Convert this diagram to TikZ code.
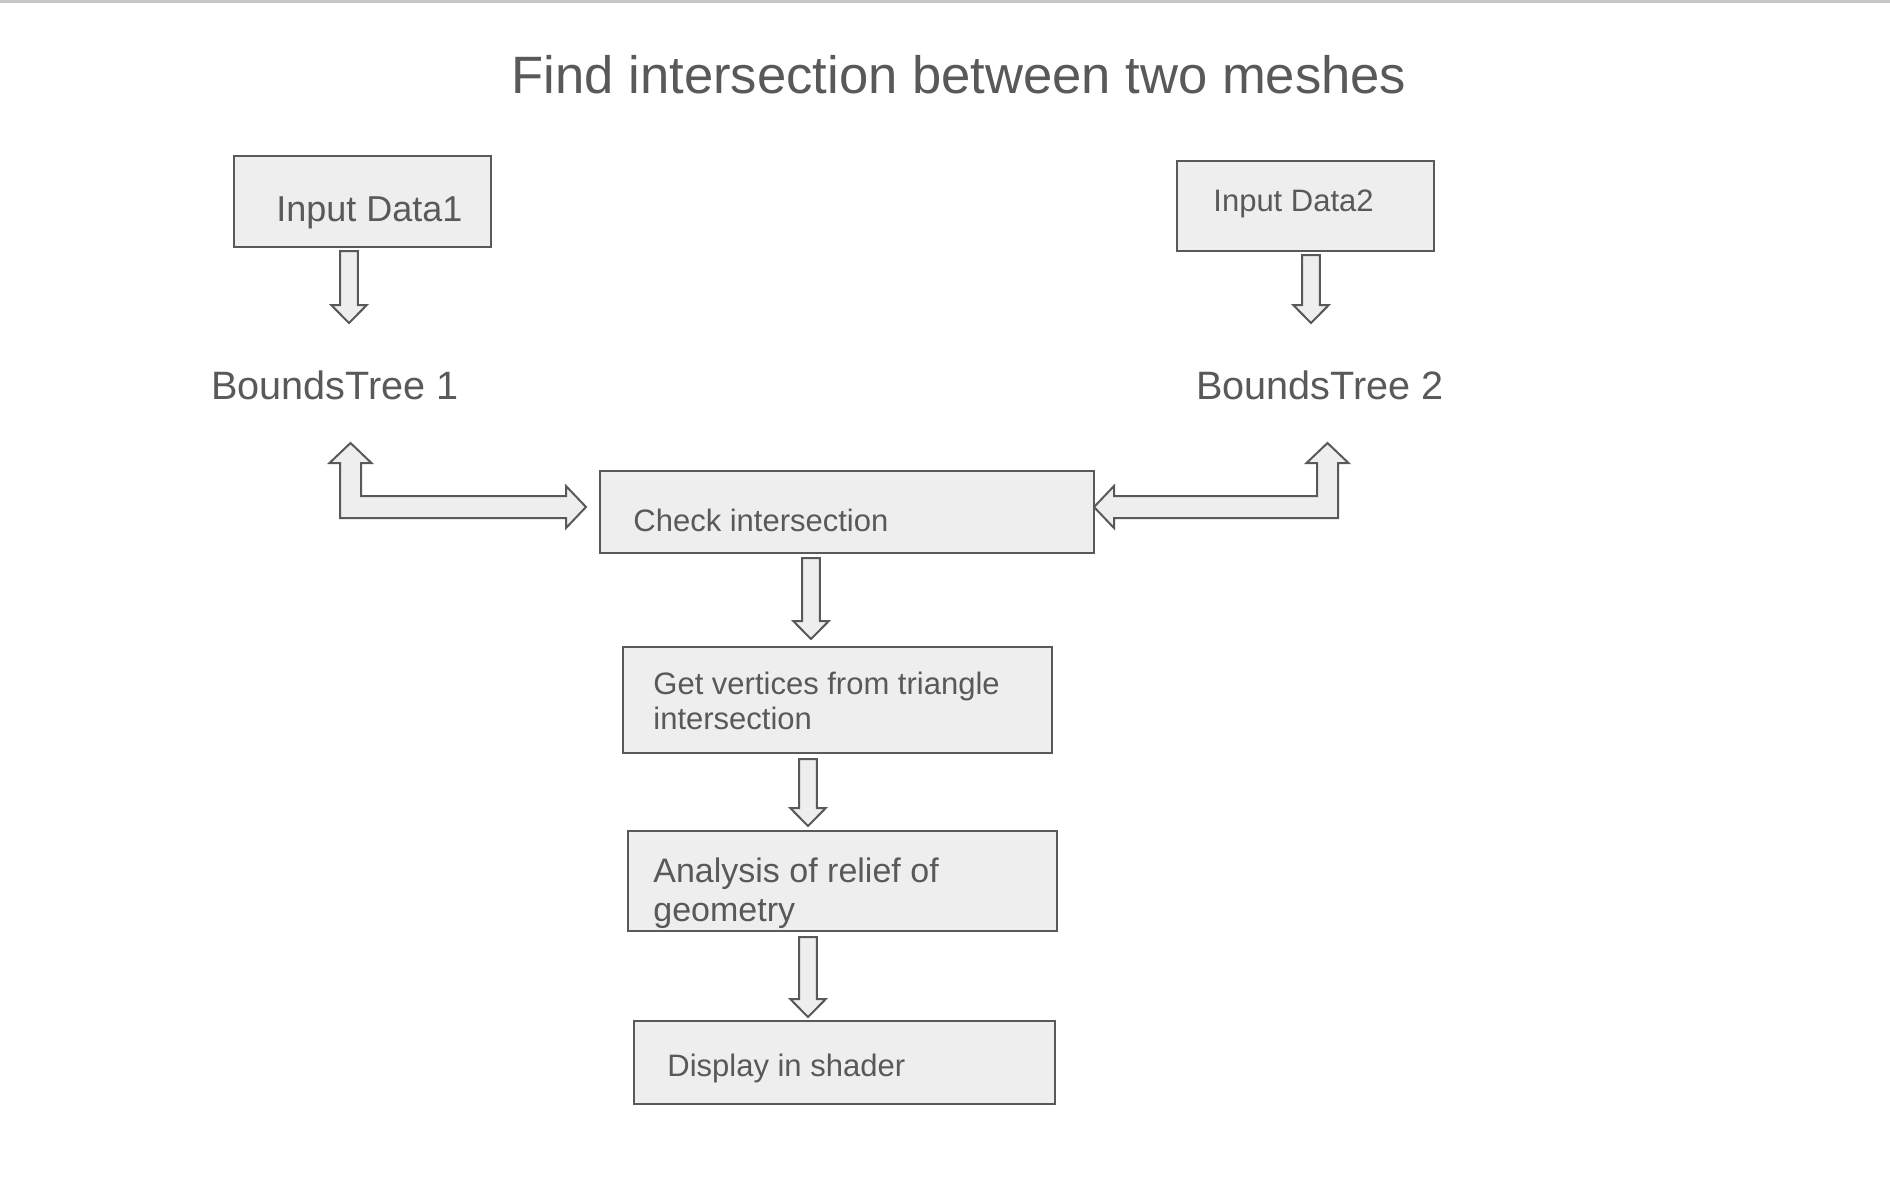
\documentclass[tikz,border=0pt]{standalone}
\usepackage{fontspec}
\setmainfont{Liberation Sans}
\usetikzlibrary{calc}
\definecolor{tgray}{HTML}{595959}
\definecolor{bfill}{HTML}{EEEEEE}
\definecolor{topline}{HTML}{C6C6C6}
\tikzset{
  box/.style={draw=tgray, fill=bfill, line width=1pt, rectangle, inner sep=0pt, anchor=north west},
  txt/.style={text=tgray, inner sep=0pt, anchor=base west, align=left},
  blk/.style={draw=tgray, fill=bfill, line width=1pt, line join=miter},
}
% vertical block arrow from #1 (top of shaft) to #2 (tip); sizes in pt (1px = 0.5pt)
\newcommand\blkdown[2]{%
  \draw[blk] let \p1=#1, \p2=#2 in
    (\x2-4.4pt,\y1) -- (\x2+4.4pt,\y1) -- (\x2+4.4pt,\y2+9pt) -- (\x2+8.9pt,\y2+9pt)
    -- (\x2,\y2) -- (\x2-8.9pt,\y2+9pt) -- (\x2-4.4pt,\y2+9pt) -- cycle;}
% L arrow: #1 horizontal tip pointing right, #2 vertical tip pointing up
\newcommand\blkLright[2]{%
  \draw[blk] let \p1=#1, \p2=#2 in
    (\x2,\y2) -- (\x2+10.5pt,\y2-10pt) -- (\x2+5.25pt,\y2-10pt) -- (\x2+5.25pt,\y1+5.5pt)
    -- (\x1-10pt,\y1+5.5pt) -- (\x1-10pt,\y1+10.5pt) -- (\x1,\y1) -- (\x1-10pt,\y1-10.5pt)
    -- (\x1-10pt,\y1-5.5pt) -- (\x2-5.25pt,\y1-5.5pt) -- (\x2-5.25pt,\y2-10pt) -- (\x2-10.5pt,\y2-10pt) -- cycle;}
% L arrow: #1 horizontal tip pointing left, #2 vertical tip pointing up
\newcommand\blkLleft[2]{%
  \draw[blk] let \p1=#1, \p2=#2 in
    (\x2,\y2) -- (\x2-10.5pt,\y2-10pt) -- (\x2-5.25pt,\y2-10pt) -- (\x2-5.25pt,\y1+5.5pt)
    -- (\x1+10pt,\y1+5.5pt) -- (\x1+10pt,\y1+10.5pt) -- (\x1,\y1) -- (\x1+10pt,\y1-10.5pt)
    -- (\x1+10pt,\y1-5.5pt) -- (\x2+5.25pt,\y1-5.5pt) -- (\x2+5.25pt,\y2-10pt) -- (\x2+10.5pt,\y2-10pt) -- cycle;}
\begin{document}
\begin{tikzpicture}[x=0.5pt,y=-0.5pt]
\useasboundingbox (0,0) rectangle (1890,1194);
\fill[white] (0,0) rectangle (1890,1194);
\fill[topline] (0,0) rectangle (1890,3);

% title
\node[text=tgray, inner sep=0pt, anchor=base, font=\fontsize{26.3}{32}\selectfont] (title) at (959,93) {Find intersection between two meshes};

% boxes (sizes in pt: 1px = 0.5pt)
\node[box, minimum width=128.5pt, minimum height=45.5pt] (in1) at (233,155) {};
\node[txt, font=\fontsize{18}{21}\selectfont] (in1t) at (276,221) {Input Data1};

\node[box, minimum width=128.5pt, minimum height=45pt] (in2) at (1176,160) {};
\node[txt, font=\fontsize{15.5}{18}\selectfont] (in2t) at (1213,211) {Input Data2};

\node[txt, font=\fontsize{19.8}{23}\selectfont] (bt1) at (211,399) {BoundsTree 1};
\node[txt, font=\fontsize{19.8}{23}\selectfont] (bt2) at (1196,399) {BoundsTree 2};

\node[box, minimum width=247pt, minimum height=41pt] (chk) at (599,470) {};
\node[txt, font=\fontsize{15.5}{18}\selectfont] (chkt) at (633,531) {Check intersection};

\node[box, minimum width=214.5pt, minimum height=53pt] (gv) at (622,646) {};
\node[txt, font=\fontsize{15.5}{17.5}\selectfont] (gvt) at (653,729) {Get vertices from triangle\\intersection};

\node[box, minimum width=214.5pt, minimum height=50pt] (an) at (627,830) {};
\node[txt, font=\fontsize{17}{19.5}\selectfont] (ant) at (653,921) {Analysis of relief of\\geometry};

\node[box, minimum width=210.5pt, minimum height=41.5pt] (disp) at (633,1020) {};
\node[txt, font=\fontsize{15.5}{18}\selectfont] (dispt) at (667,1076) {Display in shader};

% arrow end points near the BoundsTree labels
\coordinate (bt1dn) at ($(bt1.base west)+(138,-76)$);
\coordinate (bt2dn) at ($(bt2.base west)+(115,-76)$);
\coordinate (bt1up) at ($(bt1.base west)+(139.5,44)$);
\coordinate (bt2up) at ($(bt2.base west)+(131.5,44)$);

% down arrows
\blkdown{($(in1.south west)+(116,3)$)}{(bt1dn)}
\blkdown{($(in2.south west)+(135,3)$)}{(bt2dn)}
\blkdown{($(chk.south west)+(212,4)$)}{($(gv.north west)+(189,-7)$)}
\blkdown{($(gv.south west)+(186,5)$)}{($(an.north west)+(181,-4)$)}
\blkdown{($(an.south west)+(181,5)$)}{($(disp.north west)+(175,-3)$)}

% L arrows
\blkLright{($(chk.west)+(-13,-5)$)}{(bt1up)}
\blkLleft{($(chk.east)+(-1,-5)$)}{(bt2up)}
\end{tikzpicture}
\end{document}
